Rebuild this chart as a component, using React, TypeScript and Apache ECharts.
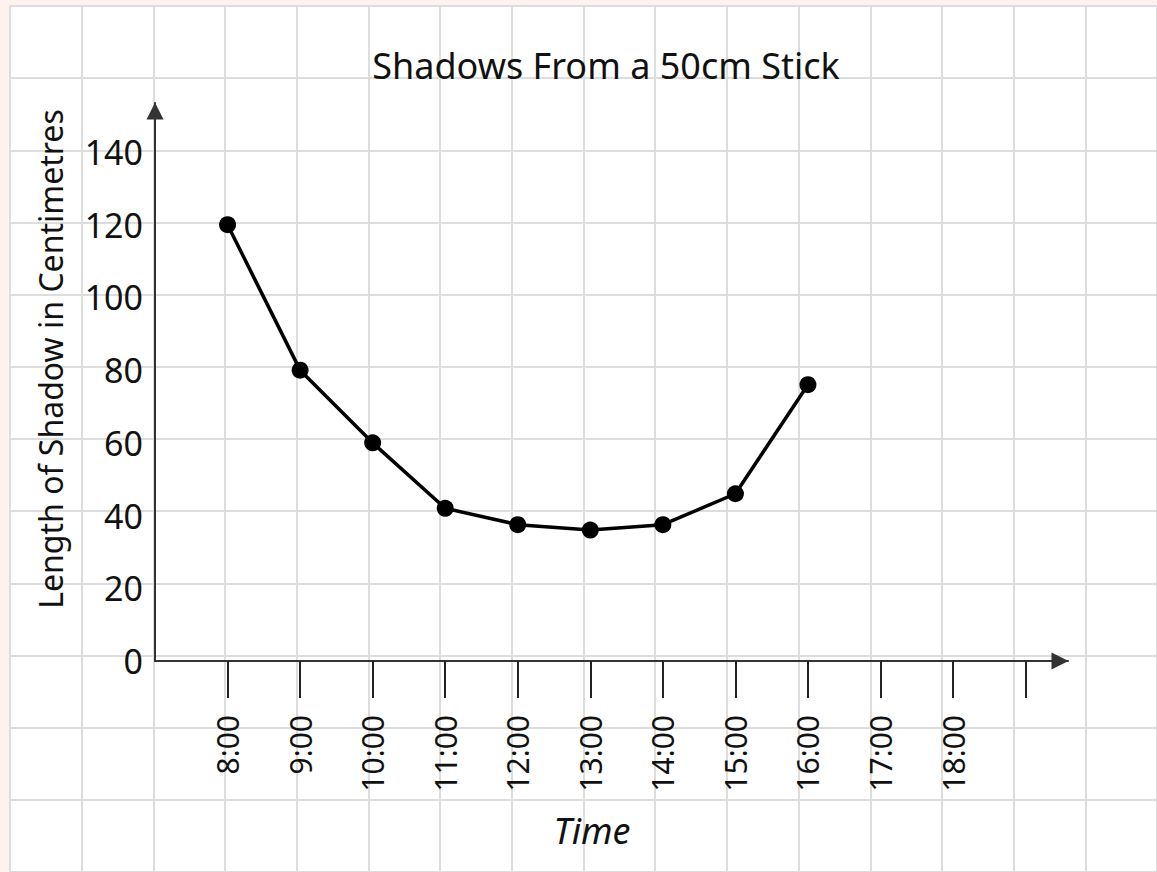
import React, { useEffect, useRef } from "react";
import * as echarts from "echarts";

const hours = [8, 9, 10, 11, 12, 13, 14, 15, 16];
const shadowLengths = [120, 80, 60, 42, 37.5, 36, 37.5, 46, 76];
const yTickValues = [0, 20, 40, 60, 80, 100, 120, 140];
const xLabelHours = [8, 9, 10, 11, 12, 13, 14, 15, 16, 17, 18];
const xTickHours = [8, 9, 10, 11, 12, 13, 14, 15, 16, 17, 18, 19];

const titleText = "Shadows From a 50cm Stick";
const xName = "Time";
const yName = "Length of Shadow in Centimetres";

const FONT = "Noto Sans";
const CELL_X = 72.55;
const CELL_Y = 72.7;

export default function App() {
  const ref = useRef<HTMLDivElement>(null);
  useEffect(() => {
    if (!ref.current) return;
    const chart = echarts.init(ref.current, null, { renderer: "svg" });
    const pxPerUnit = (661 - 152) / 140;
    const yTopPx = 103;
    const yMax = (661 - yTopPx) / pxPerUnit;
    const xEndPx = 1068;
    const xMin = 7;
    const xMax = 7 + (xEndPx - 155) / CELL_X;
    chart.setOption({
      animation: false,
      graphic: [
        {
          type: "text",
          x: 606,
          y: 65,
          style: {
            text: titleText,
            font: `36px "${FONT}"`,
            fill: "#111",
            textAlign: "center",
            textVerticalAlign: "middle",
          },
          z: 10,
        },
        {
          type: "text",
          x: 592,
          y: 830,
          style: {
            text: xName,
            font: `italic 36px "${FONT}"`,
            fill: "#111",
            textAlign: "center",
            textVerticalAlign: "middle",
          },
          z: 10,
        },
        {
          type: "text",
          x: 50,
          y: 359,
          rotation: Math.PI / 2,
          style: {
            text: yName,
            font: `32px "${FONT}"`,
            fill: "#111",
            textAlign: "center",
            textVerticalAlign: "middle",
          },
          z: 10,
        },
      ],
      grid: [
        {
          left: 10,
          top: 6,
          width: 16 * CELL_X,
          height: 12 * CELL_Y,
          show: true,
          backgroundColor: "#ffffff",
          borderWidth: 0,
          z: 0,
        },
        {
          left: 155,
          top: yTopPx,
          width: xEndPx - 155,
          height: 661 - yTopPx,
          show: false,
          containLabel: false,
        },
      ],
      xAxis: [
        {
          gridIndex: 0,
          type: "value",
          min: 0,
          max: 16,
          interval: 1,
          axisLine: { show: false },
          axisTick: { show: false },
          axisLabel: { show: false },
          splitLine: { show: true, lineStyle: { color: "#dddddd", width: 2 } },
          z: 0,
        },
        {
          gridIndex: 1,
          type: "value",
          min: xMin,
          max: xMax,
          interval: 1,
          axisLine: {
            show: true,
            symbol: ["none", "triangle"],
            symbolSize: [17, 17],
            symbolOffset: [0, -8],
            lineStyle: { color: "#333", width: 2 },
          },
          axisTick: {
            show: true,
            length: 37,
            customValues: xTickHours,
            lineStyle: { color: "#222", width: 2 },
          },
          axisLabel: {
            show: true,
            customValues: xLabelHours,
            rotate: 90,
            margin: 54,
            formatter: (v: number) => `${v}:00`,
            fontFamily: FONT,
            fontSize: 30,
            color: "#111",
          },
          splitLine: { show: false },
          z: 3,
        },
      ],
      yAxis: [
        {
          gridIndex: 0,
          type: "value",
          min: 0,
          max: 12,
          interval: 1,
          inverse: true,
          axisLine: { show: false },
          axisTick: { show: false },
          axisLabel: { show: false },
          splitLine: { show: true, lineStyle: { color: "#dddddd", width: 2 } },
          z: 0,
        },
        {
          gridIndex: 1,
          type: "value",
          min: 0,
          max: yMax,
          interval: 20,
          axisLine: {
            show: true,
            symbol: ["none", "triangle"],
            symbolSize: [17, 17],
            symbolOffset: [0, -8],
            lineStyle: { color: "#333", width: 2 },
          },
          axisTick: { show: false },
          axisLabel: {
            show: true,
            customValues: yTickValues,
            margin: 12,
            fontFamily: FONT,
            fontSize: 34,
            color: "#111",
          },
          splitLine: { show: false },
          z: 3,
        },
      ],
      series: [
        {
          type: "line",
          xAxisIndex: 1,
          yAxisIndex: 1,
          data: hours.map((h, i) => [h, shadowLengths[i]]),
          symbol: "circle",
          symbolSize: 17,
          itemStyle: { color: "#000" },
          lineStyle: { color: "#000", width: 3.5 },
          z: 5,
        },
      ],
    });
    return () => chart.dispose();
  }, []);
  return (
    <div
      style={{
        position: "absolute",
        left: 0,
        top: 0,
        width: 1157,
        height: 872,
        background: "#fdf2ee",
      }}
    >
      <div ref={ref} style={{ width: 1157, height: 872 }} />
    </div>
  );
}
